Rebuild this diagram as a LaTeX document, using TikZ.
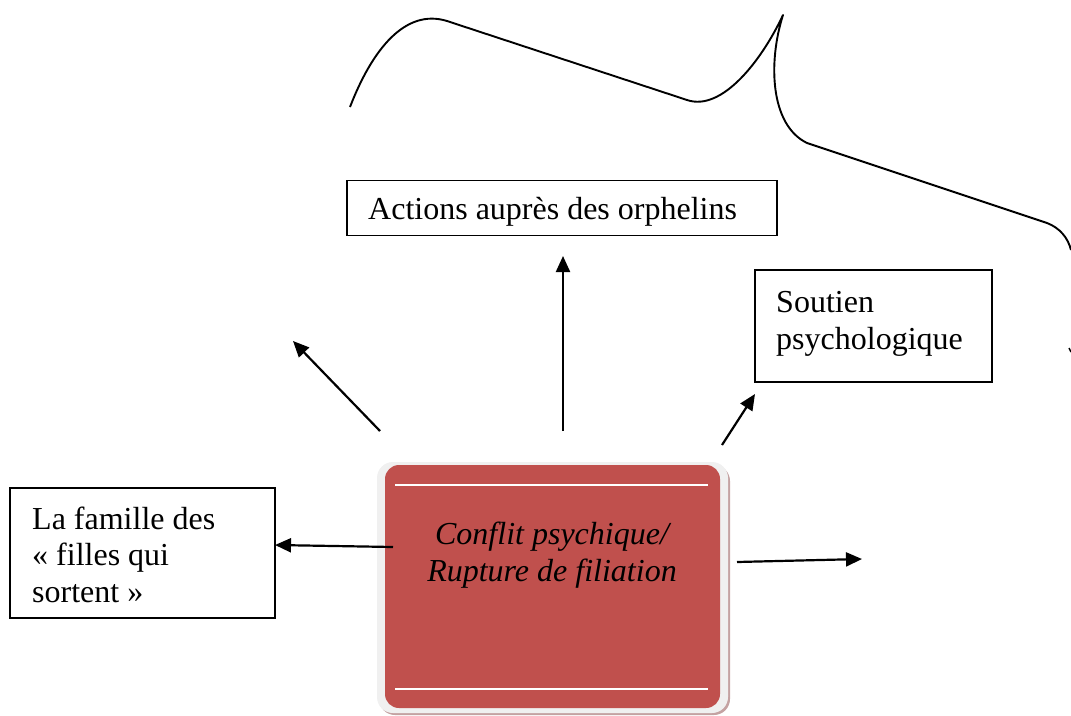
\documentclass[tikz,border=0pt]{standalone}
\usepackage{fontspec}
\setmainfont{Liberation Serif}
\usetikzlibrary{arrows.meta}
\definecolor{corered}{HTML}{C0504D}
\definecolor{framegrey}{HTML}{F0F0F0}
\definecolor{frameshade}{HTML}{C4A2A2}
\begin{document}
\begin{tikzpicture}[x=1pt,y=-1pt,
  box/.style={draw, line width=1.5pt, inner sep=0pt},
  lbl/.style={inner sep=0pt, align=left, font=\fontsize{32}{36.5}\selectfont},
  link/.style={line width=2.2pt, -{Triangle[length=16pt,width=14pt]}},
  brace/.style={line width=1.9pt, line join=round},
]
\useasboundingbox (0,0) rectangle (1071,715);

% open curved stroke across the top
\draw[brace] (350,107) .. controls (372,50) and (405,8) .. (447,21)
  -- (687,100) .. controls (722,112) and (762,60) .. (783,15)
  .. controls (768,62) and (770,125) .. (807,143)
  -- (1047,223) .. controls (1060,228) and (1068,238) .. (1071,250);
\draw[line width=1.5pt] (1069,348) -- (1071,352);

% text boxes (multi-line labels are placed by their last baseline)
\node[box, minimum width=430pt, minimum height=55pt] (act) at (562,208) {};
\node[lbl, anchor=base west] (acttxt) at (368,219) {Actions auprès des orphelins};

\node[box, minimum width=237pt, minimum height=112pt] (sout) at (873.5,326) {};
\node[lbl, anchor=base west] (souttxt) at (776,349) {Soutien\\psychologique};

\node[box, minimum width=265pt, minimum height=130pt] (fam) at (142.5,553) {};
\node[lbl, anchor=base west] (famtxt) at (32,602) {La famille des\\« filles qui\\sortent »};

% central framed block
\fill[frameshade, rounded corners=16pt] (379,465) rectangle (730,715);
\fill[framegrey, rounded corners=16pt] (377,462) rectangle (728,713);
\node[fill=corered, rounded corners=14pt, inner sep=0pt,
      minimum width=335pt, minimum height=243pt] (core) at (552.5,586.5) {};
\draw[white, line width=2pt] (395,485) -- (708,485);
\draw[white, line width=2pt] (395,689) -- (708,689);
\node[lbl, align=center, font=\fontsize{32}{36.5}\selectfont\itshape, anchor=base]
  (coretxt) at (552,581) {Conflit psychique/\\Rupture de filiation};

% arrow ends
\coordinate (ulTail) at (380,431);
\coordinate (ulHead) at (293,341);
\coordinate (upTail) at (563,431);
\coordinate (upHead) at (563,256);
\coordinate (urTail) at (722,445);
\coordinate (urHead) at (755,394);
\coordinate (lTail) at (393,547);
\coordinate (lHead) at (275,545);
\coordinate (rTail) at (737,562);
\coordinate (rHead) at (862,559);

\draw[link] (ulTail) -- (ulHead);
\draw[link] (upTail) -- (upHead);
\draw[link] (urTail) -- (urHead);
\draw[link] (lTail) -- (lHead);
\draw[link] (rTail) -- (rHead);
\end{tikzpicture}
\end{document}
